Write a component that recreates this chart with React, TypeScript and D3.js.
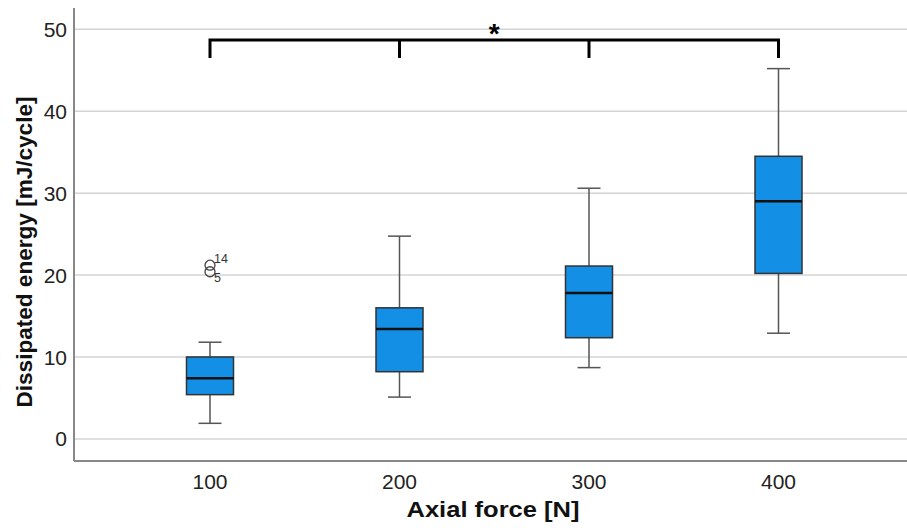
import React from "react";
import * as d3 from "d3";

// box plot summary per axial force group
const forces = ["100", "200", "300", "400"];
const whiskerLow = [1.9, 5.1, 8.7, 12.9];
const q1 = [5.4, 8.2, 12.35, 20.2];
const median = [7.4, 13.4, 17.8, 29.0];
const q3 = [10.0, 16.0, 21.1, 34.5];
const whiskerHigh = [11.8, 24.75, 30.6, 45.2];

const outlierGroup = ["100", "100"];
const outlierValue = [21.2, 20.4];
const outlierLabel = ["14", "5"];

const yTicks = [0, 10, 20, 30, 40, 50];

// significance bracket spanning all groups
const bracketGroups = ["100", "200", "300", "400"];
const bracketTop = 48.7;
const bracketBottom = 46.5;
const bracketLabel = "*";

const width = 907;
const height = 528;
const plotLeft = 74;
const plotRight = 907;
const plotTop = 8;
const plotBottom = 461;

const font = "'Liberation Sans', Arial, sans-serif";

export default function App() {
  const x = d3
    .scaleBand<string>()
    .domain(forces)
    .range([115.25, 873.25])
    .padding(0);
  const cx = (g: string) => (x(g) as number) + x.bandwidth() / 2;

  const y = d3.scaleLinear().domain([-2.7, 52.6]).range([plotBottom, plotTop]);

  const boxW = 47;
  const capW = 23;

  const bx0 = cx(bracketGroups[0]);
  const bx1 = cx(bracketGroups[bracketGroups.length - 1]);

  return (
    <svg
      width={width}
      height={height}
      style={{ position: "absolute", left: 0, top: 0, background: "#fff" }}
      fontFamily={font}
    >
      {/* grid */}
      {yTicks.map((t) => (
        <line
          key={"g" + t}
          x1={plotLeft}
          x2={plotRight}
          y1={y(t)}
          y2={y(t)}
          stroke="#d4d4d4"
          strokeWidth={1.5}
        />
      ))}

      {/* y tick labels */}
      {yTicks.map((t) => (
        <text
          key={"t" + t}
          x={67}
          y={y(t)}
          dy="0.36em"
          textAnchor="end"
          fontSize={21}
          fill="#222"
        >
          {t}
        </text>
      ))}

      {/* x tick labels */}
      {forces.map((f) => (
        <text
          key={"x" + f}
          x={cx(f)}
          y={489}
          textAnchor="middle"
          fontSize={21}
          fill="#222"
        >
          {f}
        </text>
      ))}

      {/* boxes */}
      {forces.map((f, i) => {
        const c = cx(f);
        return (
          <g key={"b" + f}>
            <line x1={c} x2={c} y1={y(whiskerHigh[i])} y2={y(q3[i])} stroke="#555" strokeWidth={1.5} />
            <line x1={c} x2={c} y1={y(q1[i])} y2={y(whiskerLow[i])} stroke="#555" strokeWidth={1.5} />
            <line x1={c - capW / 2} x2={c + capW / 2} y1={y(whiskerHigh[i])} y2={y(whiskerHigh[i])} stroke="#555" strokeWidth={1.5} />
            <line x1={c - capW / 2} x2={c + capW / 2} y1={y(whiskerLow[i])} y2={y(whiskerLow[i])} stroke="#555" strokeWidth={1.5} />
            <rect
              x={c - boxW / 2}
              y={y(q3[i])}
              width={boxW}
              height={y(q1[i]) - y(q3[i])}
              fill="#138fe6"
              stroke="#333"
              strokeWidth={1.5}
            />
            <line x1={c - boxW / 2} x2={c + boxW / 2} y1={y(median[i])} y2={y(median[i])} stroke="#111" strokeWidth={2.5} />
          </g>
        );
      })}

      {/* outliers */}
      {outlierValue.map((v, i) => {
        const c = cx(outlierGroup[i]);
        const above = i === 0;
        return (
          <g key={"o" + i}>
            <circle cx={c} cy={y(v)} r={5} fill="none" stroke="#444" strokeWidth={1.3} />
            <text
              x={c + 4}
              y={above ? y(v) - 2 : y(v) + 10}
              fontSize={12.5}
              fill="#333"
            >
              {outlierLabel[i]}
            </text>
          </g>
        );
      })}

      {/* significance bracket */}
      <path
        d={`M${bx0},${y(bracketBottom)}V${y(bracketTop)}H${bx1}V${y(bracketBottom)}`}
        fill="none"
        stroke="#000"
        strokeWidth={3}
      />
      {bracketGroups.slice(1, -1).map((g) => (
        <line key={"bt" + g} x1={cx(g)} x2={cx(g)} y1={y(bracketTop)} y2={y(bracketBottom)} stroke="#000" strokeWidth={3} />
      ))}
      <text x={(bx0 + bx1) / 2} y={43} textAnchor="middle" fontSize={28} fontWeight="bold" fill="#000">
        {bracketLabel}
      </text>

      {/* axes */}
      <line x1={plotLeft} x2={plotLeft} y1={plotTop} y2={plotBottom} stroke="#888" strokeWidth={2} />
      <line x1={plotLeft} x2={plotRight} y1={plotBottom} y2={plotBottom} stroke="#888" strokeWidth={2} />

      {/* axis titles */}
      <text
        transform={`translate(32,252) rotate(-90)`}
        textAnchor="middle"
        fontSize={22.5}
        fontWeight="bold"
        fill="#111"
        textLength={311}
        lengthAdjust="spacingAndGlyphs"
      >
        Dissipated energy [mJ/cycle]
      </text>
      <text
        x={493}
        y={517}
        textAnchor="middle"
        fontSize={22}
        fontWeight="bold"
        fill="#111"
        textLength={173}
        lengthAdjust="spacingAndGlyphs"
      >
        Axial force [N]
      </text>
    </svg>
  );
}
